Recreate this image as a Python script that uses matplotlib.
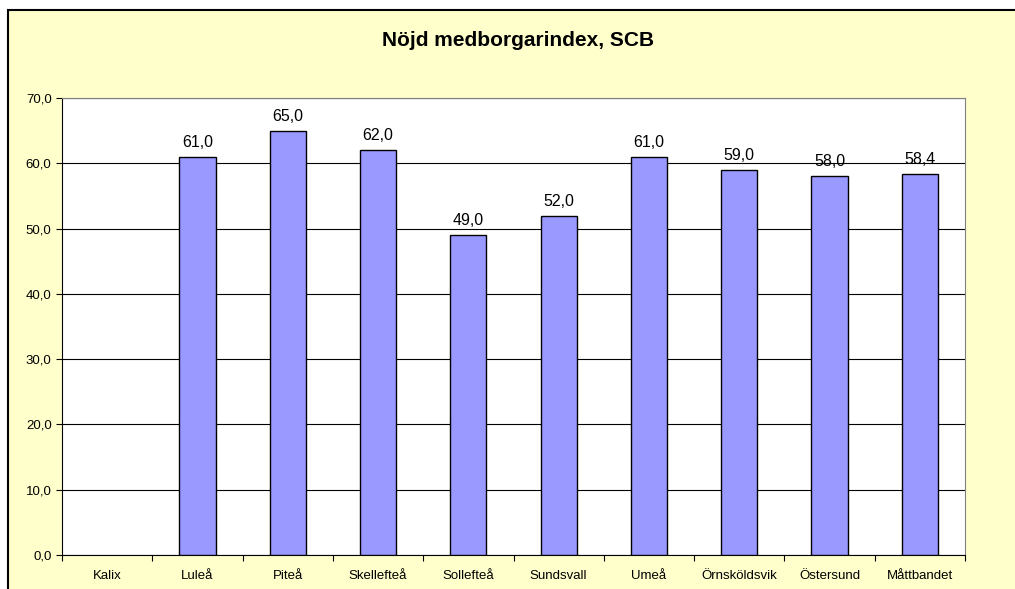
import matplotlib.pyplot as plt
from matplotlib.patches import Rectangle
from matplotlib.ticker import FuncFormatter
import numpy as np

# Nöjd medborgarindex per kommun
kommuner = ["Kalix", "Luleå", "Piteå", "Skellefteå", "Sollefteå",
            "Sundsvall", "Umeå", "Örnsköldsvik", "Östersund", "Måttbandet"]
index = [np.nan, 61.0, 65.0, 62.0, 49.0, 52.0, 61.0, 59.0, 58.0, 58.4]

plt.rcParams['font.family'] = ['Liberation Sans', 'DejaVu Sans']

fig = plt.figure(figsize=(10.15, 5.89), dpi=100)
fig.patch.set_facecolor('white')

# yellow chart area with a black frame (cut off at right/bottom)
bg = Rectangle((8 / 1015, -0.2), 1.2, 1 - 10 / 589 + 0.2, transform=fig.transFigure,
               facecolor='#FFFFCC', edgecolor='black', linewidth=1.5, zorder=-10)
fig.patches.append(bg)

ax = fig.add_axes([62 / 1015, 1 - 555 / 589, (965 - 62) / 1015, (555 - 98) / 589])
ax.set_facecolor('white')

x = np.arange(len(kommuner))
bars = ax.bar(x, index, width=0.4, color='#9999FF', edgecolor='black',
              linewidth=1, zorder=3)

for xi, v in zip(x, index):
    if np.isnan(v):
        continue
    ax.annotate(f"{v:.1f}".replace('.', ','), (xi, v), xytext=(0, 5),
                textcoords='offset points', ha='center', va='bottom',
                fontsize=11.5, color='black', zorder=4)

ax.set_xlim(-0.5, len(kommuner) - 0.5)
ax.set_ylim(0, 70)
ax.set_yticks(np.arange(0, 71, 10))
ax.yaxis.set_major_formatter(FuncFormatter(lambda v, p: f"{v:.1f}".replace('.', ',')))
ax.grid(axis='y', color='black', linewidth=0.8, zorder=1)
ax.set_axisbelow(True)

ax.set_xticks(x)
ax.set_xticklabels(kommuner)
ax.set_xticks(np.arange(-0.5, len(kommuner), 1), minor=True)
ax.tick_params(axis='x', which='major', length=0, pad=10.5, labelsize=9.5)
ax.tick_params(axis='x', which='minor', length=4, width=0.8, direction='out')
ax.tick_params(axis='y', length=4, width=0.8, pad=3.5, labelsize=9.5)

for s in ['top', 'right']:
    ax.spines[s].set_color('#808080')
    ax.spines[s].set_linewidth(0.8)
for s in ['left', 'bottom']:
    ax.spines[s].set_color('black')
    ax.spines[s].set_linewidth(0.8)

fig.text(518 / 1015, 1 - 40 / 589, "Nöjd medborgarindex, SCB", ha='center', va='center',
         fontsize=15, fontweight='bold')

fig.savefig('out.png', dpi=100)
